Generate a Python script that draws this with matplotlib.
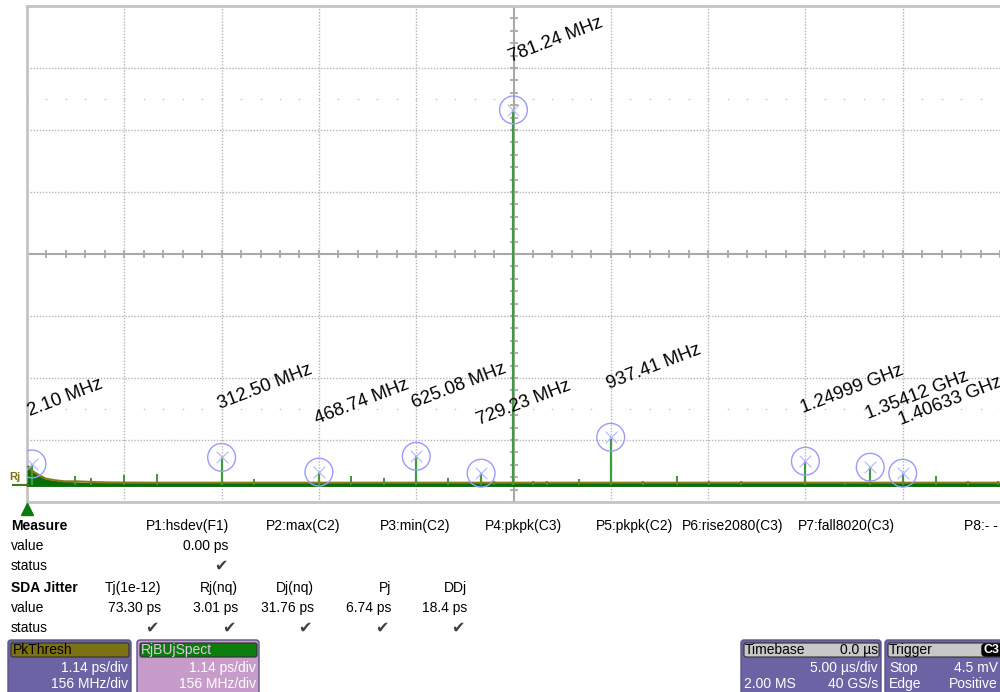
import matplotlib
matplotlib.use('Agg')
import matplotlib.pyplot as plt
from matplotlib.patches import FancyBboxPatch
import numpy as np

plt.rcParams['font.family'] = ['Liberation Sans', 'DejaVu Sans']

# ---------------- data ----------------
peak_freq_mhz = [8.0, 312.50, 468.74, 625.08, 729.23, 781.24, 937.41, 1249.99, 1354.12, 1406.33]
peak_labels = ['2.10 MHz', '312.50 MHz', '468.74 MHz', '625.08 MHz', '729.23 MHz',
               '781.24 MHz', '937.41 MHz', '1.24999 GHz', '1.35412 GHz', '1.40633 GHz']
peak_amp_ps = [0.39, 0.51, 0.24, 0.53, 0.22, 6.90, 0.88, 0.44, 0.33, 0.22]

spur_freq_mhz = [77, 103, 156, 209, 365, 520, 573, 676, 750, 813, 835, 886, 989,
                 1044, 1095, 1147, 1314, 1460, 1511, 1559]
spur_amp_ps = [0.17, 0.13, 0.18, 0.20, 0.11, 0.17, 0.13, 0.13, 0.07, 0.07, 0.07, 0.11, 0.07,
               0.17, 0.07, 0.07, 0.06, 0.17, 0.07, 0.07]

noise_freq_mhz = [0, 3, 5, 10, 16, 24, 32, 45, 60, 80, 95, 110]
noise_amp_ps = [0.37, 0.36, 0.33, 0.27, 0.20, 0.15, 0.11, 0.09, 0.07, 0.06, 0.05, 0.02]

thresh_freq_mhz = [3, 10, 20, 30, 45, 60, 80, 100, 130, 200, 1562.5]
thresh_ps = [0.31, 0.25, 0.18, 0.12, 0.09, 0.07, 0.07, 0.06, 0.05, 0.045, 0.045]

x_per_div_mhz = 156.25
y_per_div_ps = 1.14
n_xdiv, n_ydiv = 10, 8
y_floor_offset_ps = 0.31

measure_headers = ['P1:hsdev(F1)', 'P2:max(C2)', 'P3:min(C2)', 'P4:pkpk(C3)', 'P5:pkpk(C2)',
                   'P6:rise2080(C3)', 'P7:fall8020(C3)']
jitter_names = ['Tj(1e-12)', 'Rj(nq)', 'Dj(nq)', 'Pj', 'DDj']
jitter_values = ['73.30 ps', '3.01 ps', '31.76 ps', '6.74 ps', '18.4 ps']

# ---------------- figure ----------------
W, H = 1000, 692
fig = plt.figure(figsize=(W / 100, H / 100), dpi=100)
fig.patch.set_facecolor('white')

ax = fig.add_axes([27 / W, 1 - 502 / H, 973 / W, 496 / H])
x0, x1 = 0, n_xdiv * x_per_div_mhz
y0 = -y_floor_offset_ps
y1 = y0 + n_ydiv * y_per_div_ps
ax.set_xlim(x0, x1)
ax.set_ylim(y0, y1)
ax.set_xticks([])
ax.set_yticks([])
for s in ['left', 'top', 'bottom']:
    ax.spines[s].set_color('#c4c4c4')
    ax.spines[s].set_linewidth(2)
ax.spines['right'].set_visible(False)

gcol = '#b4b4b4'
cx = x0 + 5 * x_per_div_mhz
cy = y0 + 4 * y_per_div_ps
for i in range(1, n_xdiv):
    if i != 5:
        ax.axvline(x0 + i * x_per_div_mhz, color=gcol, lw=1, ls=(0, (1, 1.2)), zorder=1)
for j in range(1, n_ydiv):
    if j != 4:
        ax.axhline(y0 + j * y_per_div_ps, color=gcol, lw=1, ls=(0, (1, 1.2)), zorder=1)

# center cross with minor ticks
ax.axvline(cx, color='#a8a8a8', lw=1.5, zorder=1)
ax.axhline(cy, color='#a8a8a8', lw=1.5, zorder=1)
minor_x = np.arange(0, n_xdiv * 5 + 1) * x_per_div_mhz / 5
minor_y = y0 + np.arange(0, n_ydiv * 5 + 1) * y_per_div_ps / 5
ax.plot(minor_x, np.full_like(minor_x, cy), ls='none', marker='|', ms=6, mew=1.3,
        color='#a8a8a8', zorder=1)
ax.plot(np.full_like(minor_y, cx), minor_y, ls='none', marker='_', ms=6, mew=1.3,
        color='#a8a8a8', zorder=1)
# dotted rows
for j in (1.5, 6.5):
    ax.plot(minor_x, np.full_like(minor_x, y0 + j * y_per_div_ps), ls='none', marker='s',
            ms=1.0, mew=0, color='#c0c0c0', zorder=1)

# noise near DC
ax.fill_between(noise_freq_mhz, 0, noise_amp_ps, color='#0a6e0a', lw=0, zorder=3)
# threshold trace
ax.plot(thresh_freq_mhz, thresh_ps, color='#8a7a1c', lw=1.5, zorder=4)
# floor
ax.axhline(0, color='#0a6e0a', lw=2.8, zorder=3)
# spurs
ax.vlines(spur_freq_mhz, 0, spur_amp_ps, color='#3d963d', lw=1.4, zorder=3)
# peaks
ax.vlines(peak_freq_mhz, 0, peak_amp_ps, color='#3f9b3f', lw=1.6, zorder=3)
ax.scatter(peak_freq_mhz, peak_amp_ps, s=400, facecolors='none', edgecolors='#9a9aff',
           linewidths=1.0, zorder=5)
ax.scatter(peak_freq_mhz, peak_amp_ps, s=70, marker='x', color='#b4b4ff',
           linewidths=0.8, zorder=5)
for f, a, lab in zip(peak_freq_mhz, peak_amp_ps, peak_labels):
    t = ax.annotate(lab, xy=(f, a), xytext=(-1.5, 34.5), textcoords='offset points',
                    rotation=21, rotation_mode='anchor', ha='left', va='baseline',
                    fontsize=13.3, color='black', zorder=6, annotation_clip=False)
    t.set_clip_on(True)

# ---------------- overlay (UI panel) ----------------
ov = fig.add_axes([0, 0, 1, 1], zorder=10)
ov.set_xlim(0, W)
ov.set_ylim(H, 0)
ov.axis('off')
ov.patch.set_alpha(0)

def T(x, y, s, ha='left', color='black', size=10, weight='normal'):
    ov.text(x, y, s, ha=ha, va='center', color=color, fontsize=size, fontweight=weight)

# Rj label + trigger marker
T(9, 477, 'Rj', color='#7a7010', size=8, weight='bold')
ov.plot([13, 28], [485, 485], color='#3f7a1a', lw=1.5)
ov.plot([27], [509], marker='^', ms=9, color='#0a7a0a', ls='none')

# Measure table
rows_y = [526, 546, 566, 588, 608, 628]
T(11, rows_y[0], 'Measure', weight='bold')
T(11, rows_y[1], 'value')
T(11, rows_y[2], 'status')
T(11, rows_y[3], 'SDA Jitter', weight='bold')
T(11, rows_y[4], 'value')
T(11, rows_y[5], 'status')
header_right = [229, 340, 450, 562, 673, 783, 895]
for xr, s in zip(header_right, measure_headers):
    T(xr, rows_y[0], s, ha='right')
T(964, rows_y[0], 'P8:- -')
T(228, rows_y[1], '0.00 ps', ha='right')
T(228, rows_y[2], '\u2714', ha='right', color='#404040', size=11.5)
jit_right = [161, 238, 314, 391, 467]
for xr, n, v in zip(jit_right, jitter_names, jitter_values):
    T(xr, rows_y[3], n, ha='right')
    T(xr, rows_y[4], v, ha='right')
    T(xr - 2, rows_y[5], '\u2714', ha='right', color='#404040', size=11.5)

def box(x, w, body, head, head_ec='#303030'):
    ov.add_patch(FancyBboxPatch((x, 640), w, 60, boxstyle='round,pad=0,rounding_size=3',
                                fc=body, ec='#5a5488', lw=1))
    ov.add_patch(FancyBboxPatch((x + 3, 643), w - 5, 14, boxstyle='round,pad=0,rounding_size=2',
                                fc=head, ec=head_ec, lw=0.8))

box(8, 123, '#6b63a3', '#7d7213')
T(13, 650, 'PkThresh', color='black')
T(128, 668, '1.14 ps/div', ha='right', color='white')
T(128, 684, '156 MHz/div', ha='right', color='white')

box(137, 122, '#c79bca', '#0c7c0c')
T(141, 650, 'RjBUjSpect', color='#e6c6e8')
T(256, 668, '1.14 ps/div', ha='right', color='white')
T(256, 684, '156 MHz/div', ha='right', color='white')

box(741, 140, '#6b63a3', '#c8c8c8')
T(745, 650, 'Timebase')
T(878, 650, '0.0 \u00b5s', ha='right')
T(878, 668, '5.00 \u00b5s/div', ha='right', color='white')
T(744, 684, '2.00 MS', color='white')
T(878, 684, '40 GS/s', ha='right', color='white')

box(885, 140, '#6b63a3', '#c8c8c8')
T(889, 650, 'Trigger')
ov.add_patch(FancyBboxPatch((982, 644), 30, 12, boxstyle='round,pad=0,rounding_size=3',
                            fc='black', ec='black'))
T(984, 650, 'C3', color='white', weight='bold', size=9)
T(889, 668, 'Stop', color='white')
T(998, 668, '4.5 mV', ha='right', color='white')
T(889, 684, 'Edge', color='white')
T(998, 684, 'Positive', ha='right', color='white')

fig.savefig('out.png', dpi=100)
